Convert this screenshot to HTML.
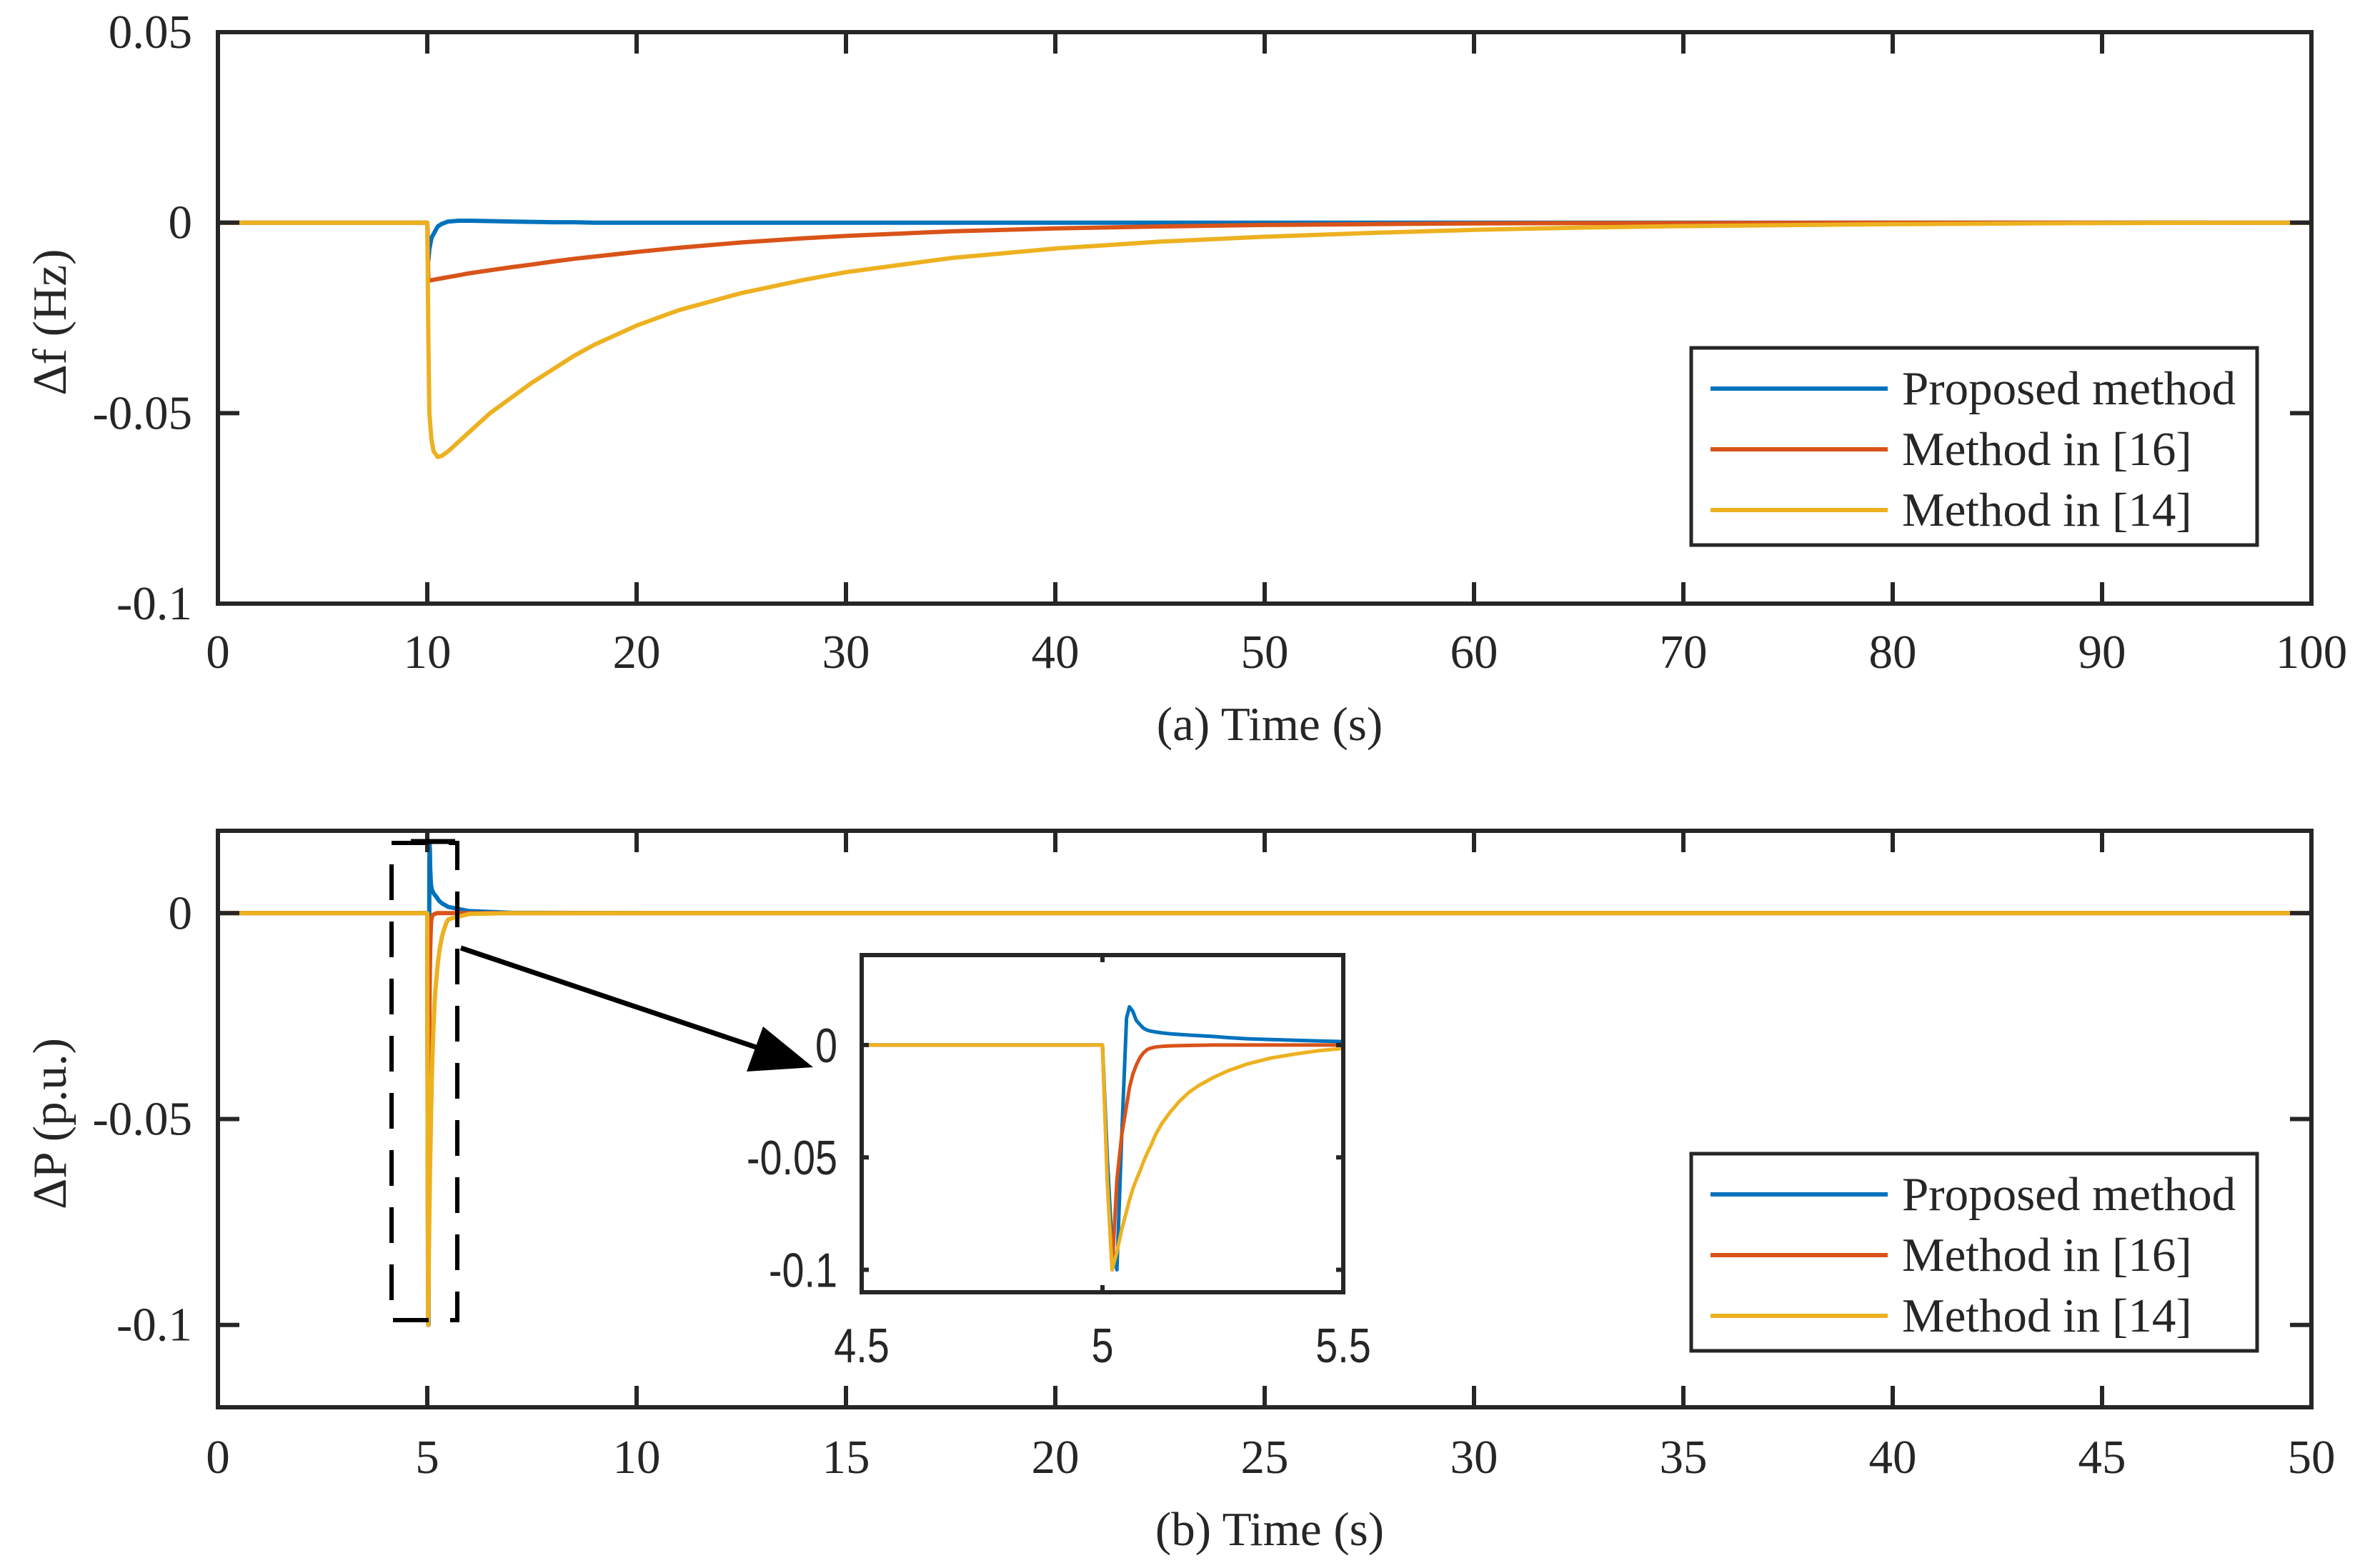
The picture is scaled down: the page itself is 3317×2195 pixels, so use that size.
<!DOCTYPE html>
<html><head><meta charset="utf-8"><style>
html,body{margin:0;padding:0;background:#fff;}
svg{display:block;}
.t{font-family:"Liberation Serif",serif;font-size:67px;fill:#262626;}
.s{font-family:"Liberation Sans",sans-serif;font-size:68px;fill:#262626;}
</style></head><body>
<svg id="c" width="3317" height="2195" viewBox="0 0 3317 2195" xmlns="http://www.w3.org/2000/svg">
<rect width="3317" height="2195" fill="#fff"/>
</svg>
<script>
// ---- data (top plot: frequency deviation) ----
const tA = [0,10,10.05,10.1,10.2,10.3,10.5,10.7,11,11.5,12,13,14,15,16,17,18,20,22,25,28,30,35,40,45,50,55,60,65,70,80,90,100];
const fProposed = [0,0,-0.010,-0.007,-0.004,-0.003,-0.001,-0.0003,0.0003,0.0005,0.0005,0.0004,0.0003,0.0002,0.0001,0.0001,0,0,0,0,0,0,0,0,0,0,0,0,0,0,0,0,0];
const f16 = [0,0,-0.0152,-0.0152,-0.0151,-0.0150,-0.0148,-0.0146,-0.0143,-0.0138,-0.0133,-0.0125,-0.0117,-0.0110,-0.0102,-0.0095,-0.0089,-0.0077,-0.0066,-0.0052,-0.0041,-0.0035,-0.0023,-0.0015,-0.0010,-0.0006,-0.0004,-0.0002,-0.0001,-0.0001,0,0,0];
const f14 = [0,0,-0.030,-0.050,-0.057,-0.060,-0.0615,-0.0612,-0.060,-0.0575,-0.055,-0.050,-0.046,-0.042,-0.0385,-0.035,-0.032,-0.027,-0.023,-0.0185,-0.015,-0.013,-0.0093,-0.0068,-0.0050,-0.0037,-0.0027,-0.0019,-0.0013,-0.0009,-0.0004,-0.0001,0];
const xTicksA = [0,10,20,30,40,50,60,70,80,90,100];
const yTicksA = [0.05,0,-0.05,-0.1];
const yTickLabelsA = ["0.05","0","-0.05","-0.1"];
// ---- data (bottom plot: power deviation) ----
const tB = [0,4.5,5,5.01,5.02,5.03,5.04,5.05,5.056,5.063,5.07,5.078,5.085,5.093,5.1,5.11,5.123,5.14,5.16,5.18,5.2,5.23,5.26,5.3,5.35,5.4,5.45,5.5,6,7,10,50];
const pProposed = [0,0,0,-0.05,-0.09,-0.1,-0.04,0.012,0.017,0.015,0.011,0.009,0.0075,0.0066,0.0062,0.0058,0.0054,0.005,0.0047,0.0044,0.0042,0.0038,0.0033,0.0028,0.0024,0.0021,0.0018,0.0015,0.0005,0.0001,0,0];
const p16 = [0,0,0,-0.06,-0.1,-0.06,-0.04,-0.027,-0.019,-0.013,-0.009,-0.0055,-0.0035,-0.002,-0.0014,-0.0009,-0.0006,-0.0004,-0.0003,-0.0002,-0.0001,0,0,0,0,0,0,0,0,0,0,0];
const p14 = [0,0,0,-0.06,-0.1,-0.092,-0.082,-0.074,-0.069,-0.064,-0.060,-0.056,-0.052,-0.048,-0.045,-0.040,-0.035,-0.030,-0.025,-0.021,-0.018,-0.0145,-0.0115,-0.0085,-0.0058,-0.004,-0.0025,-0.0015,-0.0002,0,0,0];
const xTicksB = [0,5,10,15,20,25,30,35,40,45,50];
const yTicksB = [0,-0.05,-0.1];
const yTickLabelsB = ["0","-0.05","-0.1"];
const xTicksI = [4.5,5,5.5];
const xTickLabelsI = ["4.5","5","5.5"];
const yTicksI = [0,-0.05,-0.1];
const yTickLabelsI = ["0","-0.05","-0.1"];
const legendLabels = ["Proposed method","Method in [16]","Method in [14]"];
const colors = ["#0072BD","#D95319","#EDB120"];

const NS="http://www.w3.org/2000/svg";
const svg=document.getElementById('c');
function mk(tag,attrs,parent){const e=document.createElementNS(NS,tag);for(const k in attrs)e.setAttribute(k,attrs[k]);(parent||svg).appendChild(e);return e;}
function scale(d0,d1,r0,r1){return v=>r0+(v-d0)/(d1-d0)*(r1-r0);}
function txt(g,cls,x,y,anchor,str,sx){
  const t=mk('text',{x:0,y:0,'text-anchor':anchor,'class':cls,transform:'translate('+x+' '+y+') scale('+(sx||1)+' 1)'},g);
  t.textContent=str; return t;
}

function axes(o){
  const g=mk('g',{});
  
  
  const X=scale(o.xmin,o.xmax,o.L,o.R), Y=scale(o.ymin,o.ymax,o.B,o.T);
  const cid=o.name+'-clip';
  const cp=mk('clipPath',{id:cid},g); mk('rect',{x:o.L,y:o.T,width:o.R-o.L,height:o.B-o.T},cp);
  o.series.forEach((s,i)=>{
    const d=o.t.map((t,j)=>(j?'L':'M')+X(t).toFixed(1)+' '+Y(s[j]).toFixed(1)).join(' ');
    const p=mk('path',{d:d,fill:'none',stroke:colors[i],'stroke-width':o.lw,'stroke-linejoin':'round','clip-path':'url(#'+cid+')'},g);
    
    
  });
  const fr=mk('rect',{x:o.L,y:o.T,width:o.R-o.L,height:o.B-o.T,fill:'none',stroke:'#262626','stroke-width':o.aw},g);
  
  
  o.xt.forEach((v,i)=>{
    const x=X(v);
    mk('line',{x1:x,x2:x,y1:o.B,y2:o.B-o.tl,stroke:'#262626','stroke-width':o.aw},g);
    mk('line',{x1:x,x2:x,y1:o.T,y2:o.T+o.tl,stroke:'#262626','stroke-width':o.aw},g);
    const tx=txt(g,o.cls,x,o.B+o.xly,'middle',o.xl?o.xl[i]:String(v),o.sx);
    
    
  });
  o.yt.forEach((v,i)=>{
    const y=Y(v);
    mk('line',{x1:o.L,x2:o.L+o.tl,y1:y,y2:y,stroke:'#262626','stroke-width':o.aw},g);
    mk('line',{x1:o.R,x2:o.R-o.tl,y1:y,y2:y,stroke:'#262626','stroke-width':o.aw},g);
    const tx=txt(g,o.cls,o.L-o.ylx,y+o.yoff,'end',o.yl[i],o.sx);
    
    
  });
  return {X,Y};
}
function legend(name,x0,y0,x1,y1,rows){
  const g=mk('g',{});
  
  
  mk('rect',{x:x0,y:y0,width:x1-x0,height:y1-y0,fill:'#fff',stroke:'#262626','stroke-width':5},g);
  legendLabels.forEach((lab,i)=>{
    mk('line',{x1:2394,x2:2642,y1:rows[i],y2:rows[i],stroke:colors[i],'stroke-width':6},g);
    const t=mk('text',{x:2662,y:rows[i]+22,'class':'t'},g);
    t.textContent=lab;
    
    
  });
}
// top
axes({name:'freq-axes',L:305,R:3235,T:45,B:845,xmin:0,xmax:100,ymin:-0.1,ymax:0.05,t:tA,series:[fProposed,f16,f14],
  xt:xTicksA,yt:yTicksA,yl:yTickLabelsA,tl:30,aw:6,lw:6,cls:'t',xly:90,ylx:36,yoff:22});
legend('freq-legend',2367,487,3159,763,[544,629,714]);
// bottom
axes({name:'power-axes',L:305,R:3235,T:1163,B:1970,xmin:0,xmax:50,ymin:-0.12,ymax:0.02,t:tB,series:[pProposed,p16,p14],
  xt:xTicksB,yt:yTicksB,yl:yTickLabelsB,tl:30,aw:6,lw:6,cls:'t',xly:92,ylx:36,yoff:22});
legend('power-legend',2367,1615,3159,1891,[1672,1757,1842]);
// dashed zoom box
const db=mk('g',{});


mk('rect',{x:548,y:1180,width:92,height:668,fill:'none',stroke:'#000','stroke-width':6,'stroke-dasharray':'50 30'},db);
mk('line',{x1:575,x2:637,y1:1178,y2:1178,stroke:'#000','stroke-width':7},db);
// arrow
const ar=mk('g',{});


mk('line',{x1:645,y1:1327,x2:1085,y2:1475,stroke:'#000','stroke-width':7},ar);
mk('polygon',{points:'1138,1494 1045,1500 1068,1437',fill:'#000'},ar);
// inset
mk('rect',{x:1206,y:1337,width:674,height:472,fill:'#fff'});
axes({name:'inset-axes',L:1206,R:1880,T:1337,B:1809,xmin:4.5,xmax:5.5,ymin:-0.11,ymax:0.04,t:tB,series:[pProposed,p16,p14],
  xt:xTicksI,xl:xTickLabelsI,yt:yTicksI,yl:yTickLabelsI,tl:10,aw:6,lw:5,cls:'s',sx:0.82,xly:98,ylx:34,yoff:24});
// axis titles
function lbl(txtS,x,y,rot,name){const t=mk('text',{x:x,y:y,'text-anchor':'middle','class':'t'});if(rot)t.setAttribute('transform','rotate(-90 '+x+' '+y+')');t.textContent=txtS;
  
  }
lbl('(a) Time (s)',1777,1036,false,'x-axis-title-a');
lbl('(b) Time (s)',1777,2163,false,'x-axis-title-b');
lbl('\u0394f (Hz)',92,451,true,'y-axis-title-a');
lbl('\u0394P (p.u.)',92,1573,true,'y-axis-title-b');
</script>
</body></html>
